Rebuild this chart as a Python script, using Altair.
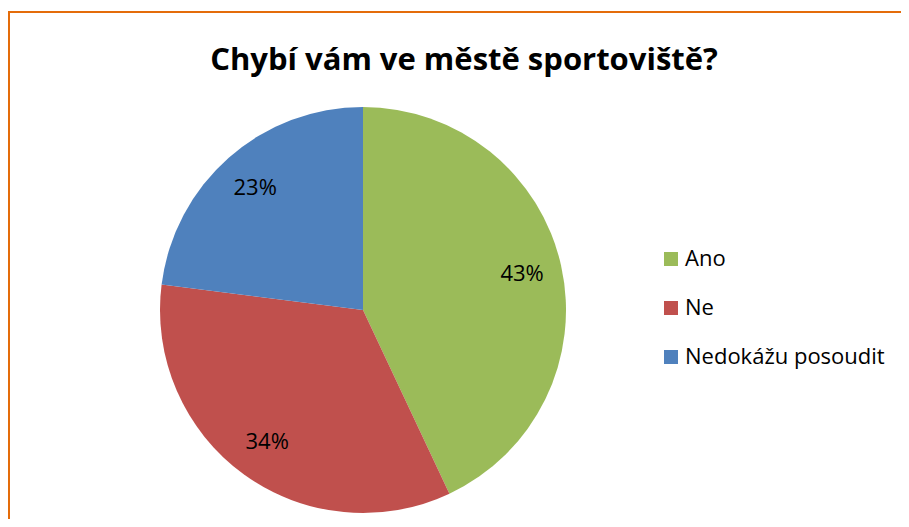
import altair as alt
import pandas as pd

categories = ["Ano", "Ne", "Nedokážu posoudit"]
values = [43, 34, 23]
labels = ["43%", "34%", "23%"]
colors = ["#9BBB59", "#C0504D", "#4F81BD"]
title_text = "Chybí vám ve městě sportoviště?"

df = pd.DataFrame({"cat": categories, "pct": values, "label": labels, "idx": list(range(len(categories)))})

W, H = 893, 511
CX, CY = 355, 302
R = 203
FONT = "Open Sans"

color_scale = alt.Scale(domain=categories, range=colors)

base = alt.Chart(df)

pie = base.mark_arc(radius=R).encode(
    theta=alt.Theta("pct:Q", stack=True),
    color=alt.Color("cat:N", scale=color_scale, sort=categories,
                    legend=alt.Legend(title=None, orient="none", legendX=652, legendY=240,
                                      symbolType="square", symbolSize=196, symbolStrokeWidth=0,
                                      labelFontSize=22, labelFont=FONT, labelColor="#000000",
                                      labelOffset=3, rowPadding=27, padding=0, labelLimit=0)),
    order=alt.Order("idx:Q"),
    x=alt.value(CX),
    y=alt.value(CY),
)

text = base.mark_text(radius=163, fontSize=22, font=FONT, color="#000000").encode(
    theta=alt.Theta("pct:Q", stack=True),
    order=alt.Order("idx:Q"),
    text="label:N",
    x=alt.value(CX),
    y=alt.value(CY),
)

title_df = pd.DataFrame({"t": [title_text]})
title = alt.Chart(title_df).mark_text(fontSize=31, font=FONT, fontWeight="bold", color="#000000",
                                      baseline="alphabetic", align="center").encode(
    text="t:N", x=alt.value(456), y=alt.value(62)
)

border = alt.Chart(title_df).mark_rect(filled=False, stroke="#E46C0A", strokeWidth=2).encode(
    x=alt.value(1), x2=alt.value(W + 20), y=alt.value(4), y2=alt.value(H + 20)
)

chart = alt.layer(border, pie, text, title).properties(
    width=W, height=H, padding=0, autosize=alt.AutoSizeParams(type="none")
).configure_view(stroke=None)

chart.save("out.html", embed_options={"renderer": "svg", "actions": False})
